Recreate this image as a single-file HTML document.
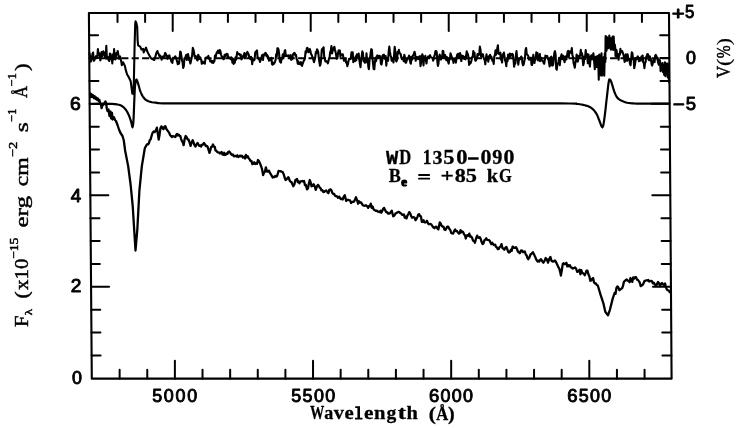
<!DOCTYPE html>
<html><head><meta charset="utf-8"><style>
html,body{margin:0;padding:0;background:#fff;width:739px;height:428px;overflow:hidden}
svg{display:block;filter:grayscale(1)}
</style></head><body>
<svg width="739" height="428" viewBox="0 0 739 428">
<rect width="739" height="428" fill="#fff"/>
<g stroke="#000" stroke-linecap="round" fill="none">
<polygon points="88.90,13.00 669.00,13.00 671.60,378.65 91.80,378.65" fill="none" stroke-width="2.1" stroke-linejoin="round"/>
<line x1="119.63" y1="378.65" x2="119.63" y2="369.65" stroke-width="2.0"/>
<line x1="117.51" y1="13.00" x2="117.51" y2="22.00" stroke-width="2.0"/>
<line x1="147.26" y1="378.65" x2="147.26" y2="369.65" stroke-width="2.0"/>
<line x1="145.11" y1="13.00" x2="145.11" y2="22.00" stroke-width="2.0"/>
<line x1="174.89" y1="378.65" x2="174.89" y2="360.65" stroke-width="2.0"/>
<line x1="172.71" y1="13.00" x2="172.71" y2="31.00" stroke-width="2.0"/>
<line x1="202.52" y1="378.65" x2="202.52" y2="369.65" stroke-width="2.0"/>
<line x1="200.31" y1="13.00" x2="200.31" y2="22.00" stroke-width="2.0"/>
<line x1="230.15" y1="378.65" x2="230.15" y2="369.65" stroke-width="2.0"/>
<line x1="227.91" y1="13.00" x2="227.91" y2="22.00" stroke-width="2.0"/>
<line x1="257.77" y1="378.65" x2="257.77" y2="369.65" stroke-width="2.0"/>
<line x1="255.52" y1="13.00" x2="255.52" y2="22.00" stroke-width="2.0"/>
<line x1="285.40" y1="378.65" x2="285.40" y2="369.65" stroke-width="2.0"/>
<line x1="283.12" y1="13.00" x2="283.12" y2="22.00" stroke-width="2.0"/>
<line x1="313.03" y1="378.65" x2="313.03" y2="360.65" stroke-width="2.0"/>
<line x1="310.72" y1="13.00" x2="310.72" y2="31.00" stroke-width="2.0"/>
<line x1="340.66" y1="378.65" x2="340.66" y2="369.65" stroke-width="2.0"/>
<line x1="338.32" y1="13.00" x2="338.32" y2="22.00" stroke-width="2.0"/>
<line x1="368.29" y1="378.65" x2="368.29" y2="369.65" stroke-width="2.0"/>
<line x1="365.92" y1="13.00" x2="365.92" y2="22.00" stroke-width="2.0"/>
<line x1="395.91" y1="378.65" x2="395.91" y2="369.65" stroke-width="2.0"/>
<line x1="393.53" y1="13.00" x2="393.53" y2="22.00" stroke-width="2.0"/>
<line x1="423.54" y1="378.65" x2="423.54" y2="369.65" stroke-width="2.0"/>
<line x1="421.13" y1="13.00" x2="421.13" y2="22.00" stroke-width="2.0"/>
<line x1="451.17" y1="378.65" x2="451.17" y2="360.65" stroke-width="2.0"/>
<line x1="448.73" y1="13.00" x2="448.73" y2="31.00" stroke-width="2.0"/>
<line x1="478.80" y1="378.65" x2="478.80" y2="369.65" stroke-width="2.0"/>
<line x1="476.33" y1="13.00" x2="476.33" y2="22.00" stroke-width="2.0"/>
<line x1="506.43" y1="378.65" x2="506.43" y2="369.65" stroke-width="2.0"/>
<line x1="503.93" y1="13.00" x2="503.93" y2="22.00" stroke-width="2.0"/>
<line x1="534.05" y1="378.65" x2="534.05" y2="369.65" stroke-width="2.0"/>
<line x1="531.54" y1="13.00" x2="531.54" y2="22.00" stroke-width="2.0"/>
<line x1="561.68" y1="378.65" x2="561.68" y2="369.65" stroke-width="2.0"/>
<line x1="559.14" y1="13.00" x2="559.14" y2="22.00" stroke-width="2.0"/>
<line x1="589.31" y1="378.65" x2="589.31" y2="360.65" stroke-width="2.0"/>
<line x1="586.74" y1="13.00" x2="586.74" y2="31.00" stroke-width="2.0"/>
<line x1="616.94" y1="378.65" x2="616.94" y2="369.65" stroke-width="2.0"/>
<line x1="614.34" y1="13.00" x2="614.34" y2="22.00" stroke-width="2.0"/>
<line x1="644.57" y1="378.65" x2="644.57" y2="369.65" stroke-width="2.0"/>
<line x1="641.94" y1="13.00" x2="641.94" y2="22.00" stroke-width="2.0"/>
<line x1="91.62" y1="355.40" x2="100.62" y2="355.40" stroke-width="2.0"/>
<line x1="671.43" y1="355.40" x2="662.43" y2="355.40" stroke-width="2.0"/>
<line x1="91.43" y1="332.53" x2="100.43" y2="332.53" stroke-width="2.0"/>
<line x1="671.27" y1="332.53" x2="662.27" y2="332.53" stroke-width="2.0"/>
<line x1="91.25" y1="309.66" x2="100.25" y2="309.66" stroke-width="2.0"/>
<line x1="671.11" y1="309.66" x2="662.11" y2="309.66" stroke-width="2.0"/>
<line x1="91.07" y1="286.79" x2="109.07" y2="286.79" stroke-width="2.0"/>
<line x1="670.95" y1="286.79" x2="652.95" y2="286.79" stroke-width="2.0"/>
<line x1="90.89" y1="263.92" x2="99.89" y2="263.92" stroke-width="2.0"/>
<line x1="670.78" y1="263.92" x2="661.78" y2="263.92" stroke-width="2.0"/>
<line x1="90.71" y1="241.05" x2="99.71" y2="241.05" stroke-width="2.0"/>
<line x1="670.62" y1="241.05" x2="661.62" y2="241.05" stroke-width="2.0"/>
<line x1="90.53" y1="218.18" x2="99.53" y2="218.18" stroke-width="2.0"/>
<line x1="670.46" y1="218.18" x2="661.46" y2="218.18" stroke-width="2.0"/>
<line x1="90.35" y1="195.31" x2="108.35" y2="195.31" stroke-width="2.0"/>
<line x1="670.30" y1="195.31" x2="652.30" y2="195.31" stroke-width="2.0"/>
<line x1="90.16" y1="172.44" x2="99.16" y2="172.44" stroke-width="2.0"/>
<line x1="670.13" y1="172.44" x2="661.13" y2="172.44" stroke-width="2.0"/>
<line x1="89.98" y1="149.57" x2="98.98" y2="149.57" stroke-width="2.0"/>
<line x1="669.97" y1="149.57" x2="660.97" y2="149.57" stroke-width="2.0"/>
<line x1="89.80" y1="126.70" x2="98.80" y2="126.70" stroke-width="2.0"/>
<line x1="669.81" y1="126.70" x2="660.81" y2="126.70" stroke-width="2.0"/>
<line x1="89.62" y1="103.83" x2="107.62" y2="103.83" stroke-width="2.0"/>
<line x1="669.65" y1="103.83" x2="651.65" y2="103.83" stroke-width="2.0"/>
<line x1="89.44" y1="80.96" x2="98.44" y2="80.96" stroke-width="2.0"/>
<line x1="669.48" y1="80.96" x2="660.48" y2="80.96" stroke-width="2.0"/>
<line x1="89.26" y1="58.09" x2="98.26" y2="58.09" stroke-width="2.0"/>
<line x1="669.32" y1="58.09" x2="660.32" y2="58.09" stroke-width="2.0"/>
<line x1="89.08" y1="35.22" x2="98.08" y2="35.22" stroke-width="2.0"/>
<line x1="669.16" y1="35.22" x2="660.16" y2="35.22" stroke-width="2.0"/>
</g>
<g stroke="#000" stroke-linecap="round">

<path d="M90.1,58.2 L669.0,58.2" stroke-width="2" stroke-dasharray="7.1 3.3" stroke-linecap="butt" fill="none"/>
<path d="M89.50,53.08 L90.10,56.96 L90.70,61.77 L91.30,59.88 L91.90,57.58 L92.50,53.67 L93.10,52.50 L93.70,60.82 L94.30,60.36 L94.90,58.53 L95.50,57.35 L96.10,55.97 L96.70,55.90 L97.30,57.31 L97.90,49.00 L98.50,55.14 L99.10,53.05 L99.70,54.15 L100.30,60.50 L100.90,58.49 L101.50,52.00 L102.10,56.28 L102.70,53.58 L103.30,51.34 L103.90,52.52 L104.50,55.40 L105.10,57.75 L105.70,58.39 L106.30,45.70 L106.90,58.56 L107.50,58.49 L108.10,57.20 L108.70,60.31 L109.30,61.00 L109.90,53.47 L110.50,53.98 L111.10,58.94 L111.70,57.66 L112.30,63.40 L112.90,54.34 L113.50,59.51 L114.10,49.00 L114.70,57.91 L115.30,59.43 L115.90,56.54 L116.50,53.02 L117.10,53.98 L117.70,51.02 L118.30,54.61 L118.90,58.76 L119.50,58.03 L120.10,56.40 L120.70,59.30 L121.30,61.70 L121.80,65.20 L123.00,62.30 L124.80,65.80 L125.90,70.40 L127.10,74.50 L128.30,76.30 L129.40,78.60 L130.60,80.90 L131.20,85.00 L131.80,89.70 L132.30,93.50 L132.90,91.00 L133.40,94.00 L133.90,80.00 L134.50,50.00 L135.20,24.00 L135.60,21.40 L136.20,22.50 L137.20,27.00 L137.60,40.00 L138.10,45.40 L140.20,46.60 L141.50,49.50 L143.10,48.90 L143.70,52.40 L146.00,47.70 L147.50,52.00 L149.00,54.80 L150.50,57.50 L151.90,58.90 L154.30,60.00 L156.60,52.40 L157.40,51.00 L158.00,53.07 L158.60,53.94 L159.20,55.61 L159.80,56.88 L160.40,55.68 L161.00,57.92 L161.60,59.70 L162.20,58.10 L162.80,56.70 L163.40,57.67 L164.00,56.40 L164.60,54.80 L165.20,52.89 L165.80,53.59 L166.40,56.55 L167.00,55.66 L167.60,58.83 L168.20,56.66 L168.80,55.69 L169.40,55.32 L170.00,58.34 L170.60,58.36 L171.20,61.05 L171.80,62.16 L172.40,62.84 L173.00,57.91 L173.60,58.63 L174.20,58.34 L174.80,56.97 L175.40,56.26 L176.00,58.14 L176.60,59.94 L177.20,61.51 L177.80,64.26 L178.40,62.00 L179.00,63.69 L179.60,59.22 L180.20,51.43 L180.80,52.12 L181.40,56.36 L182.00,60.21 L182.60,62.51 L183.20,67.95 L183.80,66.26 L184.40,58.88 L185.00,58.61 L185.60,56.71 L186.20,54.75 L186.80,59.86 L187.40,55.64 L188.00,54.03 L188.60,56.94 L189.20,60.31 L189.80,60.71 L190.40,63.51 L191.00,60.93 L191.60,58.09 L192.20,54.83 L192.80,47.90 L193.40,49.44 L194.00,52.19 L194.60,56.48 L195.20,55.94 L195.80,56.02 L196.40,56.98 L197.00,59.76 L197.60,60.51 L198.20,54.75 L198.80,56.18 L199.40,59.02 L200.00,57.20 L200.60,58.63 L201.20,59.75 L201.80,63.79 L202.40,63.22 L203.00,61.63 L203.60,62.77 L204.20,63.33 L204.80,63.67 L205.40,58.91 L206.00,57.47 L206.60,57.54 L207.20,57.39 L207.80,57.54 L208.40,55.95 L209.00,58.77 L209.60,58.92 L210.20,61.31 L210.80,61.75 L211.40,60.62 L212.00,62.78 L212.60,60.99 L213.20,63.01 L213.80,61.94 L214.40,61.21 L215.00,55.51 L215.60,57.43 L216.20,54.26 L216.80,52.27 L217.40,52.81 L218.00,50.49 L218.60,52.18 L219.20,53.24 L219.80,50.06 L220.40,51.24 L221.00,54.16 L221.60,56.40 L222.20,56.45 L222.80,58.20 L223.40,59.17 L224.00,58.98 L224.60,54.86 L225.20,56.44 L225.80,56.01 L226.40,53.75 L227.00,54.67 L227.60,54.23 L228.20,58.06 L228.80,57.21 L229.40,57.78 L230.00,57.82 L230.60,59.17 L231.20,57.27 L231.80,58.18 L232.40,62.60 L233.00,58.72 L233.60,63.89 L234.20,61.91 L234.80,62.64 L235.40,57.56 L236.00,59.78 L236.60,56.54 L237.20,52.08 L237.80,53.61 L238.40,54.13 L239.00,53.87 L239.60,54.36 L240.20,55.66 L240.80,54.72 L241.40,59.40 L242.00,58.77 L242.60,58.28 L243.20,55.68 L243.80,55.33 L244.40,53.01 L245.00,58.34 L245.60,54.20 L246.20,56.13 L246.80,53.07 L247.40,51.88 L248.00,53.48 L248.60,54.09 L249.20,57.02 L249.80,58.35 L250.40,59.07 L251.00,56.87 L251.60,58.01 L252.20,64.23 L252.80,59.23 L253.40,60.05 L254.00,60.36 L254.60,59.59 L255.20,52.78 L255.80,51.57 L256.40,52.42 L257.00,50.43 L257.60,57.90 L258.20,57.56 L258.80,59.25 L259.40,59.82 L260.00,61.91 L260.60,59.90 L261.20,59.34 L261.80,56.04 L262.40,54.81 L263.00,59.95 L263.60,54.55 L264.20,55.43 L264.80,53.78 L265.40,52.88 L266.00,53.30 L266.60,56.39 L267.20,55.02 L267.80,56.25 L268.40,57.54 L269.00,60.71 L269.60,59.77 L270.20,60.22 L270.80,59.68 L271.40,57.85 L272.00,64.03 L272.60,64.66 L273.20,62.67 L273.80,63.83 L274.40,63.03 L275.00,61.59 L275.60,59.83 L276.20,54.05 L276.80,56.31 L277.40,48.20 L278.00,48.24 L278.60,49.80 L279.20,54.91 L279.80,61.05 L280.40,62.15 L281.00,62.64 L281.60,58.15 L282.20,58.83 L282.80,54.26 L283.40,54.57 L284.00,56.65 L284.60,51.08 L285.20,50.19 L285.80,56.10 L286.40,55.80 L287.00,55.33 L287.60,56.19 L288.20,55.85 L288.80,55.39 L289.40,57.13 L290.00,55.77 L290.60,55.08 L291.20,59.81 L291.80,59.51 L292.40,58.61 L293.00,54.15 L293.60,53.96 L294.20,52.90 L294.80,53.22 L295.40,55.71 L296.00,54.83 L296.60,58.95 L297.20,60.30 L297.80,63.71 L298.40,61.43 L299.00,63.90 L299.60,63.44 L300.20,64.22 L300.80,61.97 L301.40,65.12 L302.00,65.84 L302.60,63.75 L303.20,62.57 L303.80,60.46 L304.40,60.04 L305.00,57.68 L305.60,51.19 L306.20,52.69 L306.80,48.34 L307.40,47.75 L308.00,49.40 L308.60,52.31 L309.20,51.28 L309.80,49.08 L310.40,50.92 L311.00,54.02 L311.60,54.69 L312.20,56.49 L312.80,58.07 L313.40,60.05 L314.00,62.28 L314.60,60.08 L315.20,57.55 L315.80,52.15 L316.40,53.29 L317.00,49.34 L317.60,50.36 L318.20,51.87 L318.80,57.77 L319.40,62.29 L320.00,65.71 L320.60,63.85 L321.20,58.66 L321.80,49.67 L322.40,48.68 L323.00,51.53 L323.60,47.20 L324.20,56.70 L324.80,58.65 L325.40,61.41 L326.00,60.85 L326.60,61.49 L327.20,61.88 L327.80,63.35 L328.40,61.68 L329.00,58.41 L329.60,57.19 L330.20,51.97 L330.80,50.94 L331.40,46.15 L332.00,53.39 L332.60,51.04 L333.20,49.85 L333.80,47.61 L334.40,46.77 L335.00,50.03 L335.60,52.14 L336.20,55.44 L336.80,58.83 L337.40,58.30 L338.00,53.46 L338.60,50.51 L339.20,50.34 L339.80,50.46 L340.40,56.56 L341.00,54.25 L341.60,54.20 L342.20,54.96 L342.80,54.28 L343.40,57.59 L344.00,60.75 L344.60,59.95 L345.50,58.83 L346.10,62.71 L346.70,62.14 L347.30,66.11 L347.90,64.21 L348.50,60.99 L349.10,58.88 L349.70,58.93 L350.30,59.09 L350.90,57.54 L351.50,52.39 L352.10,58.11 L352.70,52.30 L353.30,62.10 L353.90,59.98 L354.50,60.70 L355.10,61.04 L355.70,56.30 L356.30,60.11 L356.90,54.35 L357.50,57.68 L358.10,56.38 L358.70,53.52 L359.30,59.86 L359.90,63.51 L360.50,67.16 L361.10,59.94 L361.70,56.31 L362.30,51.33 L362.90,52.76 L363.50,61.03 L364.10,60.63 L364.70,62.69 L365.30,58.29 L365.90,62.39 L366.50,53.23 L367.10,61.57 L367.70,58.00 L368.30,66.67 L368.90,69.20 L369.50,60.37 L370.10,57.35 L370.70,52.54 L371.30,49.18 L371.90,49.78 L372.50,58.28 L373.10,64.12 L373.70,69.06 L374.30,69.29 L374.90,62.38 L375.50,57.80 L376.10,61.18 L376.70,56.38 L377.30,55.48 L377.90,56.10 L378.50,58.28 L379.10,55.82 L379.70,57.50 L380.30,56.29 L380.90,63.83 L381.50,64.53 L382.10,61.46 L382.70,55.31 L383.30,54.93 L383.90,54.69 L384.50,56.75 L385.10,58.90 L385.70,55.94 L386.30,65.65 L386.90,58.30 L387.50,57.85 L388.10,60.75 L388.70,51.42 L389.30,46.55 L389.90,51.67 L390.50,55.25 L391.10,56.82 L391.70,60.76 L392.30,59.58 L392.90,59.58 L393.50,62.44 L394.10,54.74 L394.70,46.87 L395.30,51.35 L395.90,60.28 L396.50,61.45 L397.10,59.46 L397.70,51.92 L398.30,53.56 L398.90,49.83 L399.50,53.18 L400.10,53.33 L400.70,54.20 L401.30,57.54 L401.90,58.98 L402.50,59.29 L403.10,57.68 L403.70,61.18 L404.30,54.69 L404.90,57.10 L405.50,62.61 L406.10,62.72 L406.70,60.28 L407.30,59.69 L407.90,58.39 L408.50,57.41 L409.10,55.55 L409.70,57.59 L410.30,62.75 L410.90,63.68 L411.50,56.82 L412.10,59.83 L412.70,56.29 L413.30,54.89 L413.90,54.03 L414.50,51.86 L415.10,53.85 L415.70,60.81 L416.30,57.03 L416.90,58.22 L417.50,57.10 L418.10,59.13 L418.70,57.58 L419.30,56.43 L419.90,56.16 L420.50,66.08 L421.10,62.72 L421.70,56.47 L422.30,54.33 L422.90,55.87 L423.50,65.49 L424.10,57.95 L424.70,58.32 L425.30,55.88 L425.90,60.21 L426.50,63.56 L427.10,58.46 L427.70,57.54 L428.30,56.33 L428.90,57.51 L429.50,57.27 L430.10,55.17 L430.70,57.22 L431.30,57.28 L431.90,57.80 L432.50,57.91 L433.10,60.63 L433.70,59.18 L434.30,56.09 L434.90,54.27 L435.50,50.93 L436.10,50.95 L436.70,52.06 L437.30,60.80 L437.90,65.91 L438.50,63.41 L439.10,56.49 L439.70,54.67 L440.30,56.37 L440.90,59.54 L441.50,58.31 L442.10,58.25 L442.70,50.92 L443.30,50.93 L443.90,58.15 L444.50,56.62 L445.10,54.88 L445.70,57.73 L446.30,60.26 L446.90,57.13 L447.50,59.34 L448.10,61.76 L448.70,63.55 L449.30,58.28 L449.90,59.44 L450.50,53.36 L451.10,55.07 L451.70,56.93 L452.30,59.61 L452.90,58.12 L453.50,62.88 L454.10,59.44 L454.70,59.32 L455.30,59.07 L455.90,62.69 L456.50,58.04 L457.10,55.12 L457.70,54.02 L458.30,53.81 L458.90,57.64 L459.50,54.60 L460.10,53.09 L460.70,56.18 L461.30,61.02 L461.90,55.59 L462.50,58.40 L463.10,56.07 L463.70,58.55 L464.30,58.94 L464.90,56.91 L465.50,59.36 L466.10,56.05 L466.70,51.28 L467.30,53.17 L467.90,54.17 L468.50,57.46 L469.10,64.88 L469.70,61.80 L470.30,63.59 L470.90,62.43 L471.50,60.31 L472.10,56.97 L472.70,57.15 L473.30,51.06 L473.90,53.61 L474.50,52.56 L475.10,60.17 L475.70,60.84 L476.30,59.50 L476.90,58.68 L477.50,53.96 L478.10,55.57 L478.70,55.19 L479.30,52.97 L479.90,46.65 L480.50,49.67 L481.10,56.56 L481.70,56.12 L482.30,56.37 L482.90,54.18 L483.50,57.28 L484.10,59.02 L484.70,59.87 L485.30,64.28 L485.90,58.48 L486.50,54.32 L487.10,59.72 L487.70,56.83 L488.30,61.74 L488.90,56.39 L489.50,56.64 L490.10,54.74 L490.70,56.91 L491.30,56.52 L491.90,59.40 L492.50,60.94 L493.10,60.57 L493.70,63.93 L494.30,56.23 L494.90,55.48 L495.50,50.26 L496.10,54.76 L496.70,52.54 L497.30,48.53 L497.90,45.31 L498.50,53.30 L499.10,53.98 L499.70,53.57 L500.30,52.61 L500.90,59.62 L501.50,58.34 L502.10,62.49 L502.70,54.38 L503.30,56.76 L503.90,52.65 L504.50,56.48 L505.10,60.60 L505.70,61.59 L506.30,66.14 L506.90,59.72 L507.50,61.38 L508.10,54.56 L508.70,56.96 L509.30,58.31 L509.90,53.65 L510.50,53.68 L511.10,55.85 L511.70,54.73 L512.30,53.77 L512.90,54.64 L513.50,59.55 L514.10,66.75 L514.70,63.48 L515.30,63.64 L515.90,55.69 L516.50,51.00 L517.10,57.87 L517.70,59.61 L518.30,64.60 L518.90,59.50 L519.50,58.69 L520.10,59.08 L520.70,57.89 L521.30,56.54 L521.90,58.52 L522.50,63.35 L523.10,65.33 L523.70,64.30 L524.30,61.23 L524.90,58.53 L525.50,50.26 L526.10,47.97 L526.70,53.90 L527.30,54.75 L527.90,55.43 L528.50,56.49 L529.10,59.72 L529.70,58.58 L530.30,58.24 L530.90,57.71 L531.50,64.68 L532.10,64.97 L532.70,60.15 L533.30,54.84 L533.90,58.56 L534.50,63.03 L535.10,58.65 L535.70,59.68 L536.30,52.30 L536.90,56.01 L537.50,53.13 L538.10,60.37 L538.70,56.54 L539.30,58.60 L539.90,53.97 L540.00,61.16 L540.60,59.69 L541.20,57.72 L541.80,60.43 L542.40,60.83 L543.00,61.24 L543.60,63.02 L544.20,63.77 L544.80,60.04 L545.40,55.54 L546.00,55.94 L546.60,57.49 L547.20,56.02 L547.80,58.86 L548.40,58.65 L549.00,62.33 L549.60,66.47 L550.20,64.47 L550.80,57.13 L551.40,56.72 L552.00,65.38 L552.60,65.58 L553.20,64.43 L553.80,58.01 L554.40,52.73 L555.00,51.13 L555.60,54.58 L556.20,68.35 L556.80,69.76 L557.40,64.06 L558.00,63.58 L558.60,61.20 L559.20,57.87 L559.80,65.21 L560.40,59.01 L561.00,56.59 L561.60,54.33 L562.20,59.21 L562.80,58.71 L563.40,55.90 L564.00,59.79 L564.60,62.27 L565.20,57.04 L565.80,56.41 L566.40,59.56 L567.00,55.82 L567.60,51.87 L568.20,50.81 L568.80,56.90 L569.40,51.77 L570.00,51.61 L570.60,51.03 L571.20,52.80 L571.80,48.08 L572.40,55.21 L573.00,56.97 L573.60,63.08 L574.20,64.95 L574.80,67.74 L575.40,62.74 L576.00,60.87 L576.60,54.48 L577.20,56.69 L577.80,61.67 L578.40,58.63 L579.00,55.70 L579.60,56.85 L580.20,54.93 L580.80,49.78 L581.40,55.23 L582.00,53.15 L582.60,58.36 L583.20,65.16 L583.80,62.97 L584.40,56.29 L585.00,59.08 L585.70,50.08 L586.40,57.26 L587.10,53.98 L587.80,63.18 L588.50,54.43 L589.20,61.55 L589.90,66.56 L590.60,56.84 L591.30,55.32 L592.00,59.51 L592.70,58.49 L593.40,53.25 L594.10,60.94 L594.80,69.15 L595.50,57.14 L596.00,56.69 L596.55,66.85 L597.10,56.26 L597.65,67.25 L598.20,55.78 L598.75,79.73 L599.30,54.54 L599.85,67.57 L600.40,57.75 L600.95,75.46 L601.50,53.18 L602.05,75.41 L602.60,57.96 L603.15,68.93 L603.70,57.12 L604.25,75.78 L604.80,53.33 L605.30,62.00 L605.60,36.00 L606.00,36.52 L606.55,50.77 L607.10,37.37 L607.65,48.21 L608.20,39.11 L608.75,48.20 L609.30,35.50 L609.85,47.30 L610.40,38.10 L610.95,49.81 L611.50,38.84 L612.05,48.15 L612.60,36.55 L613.15,49.92 L613.70,36.53 L614.25,49.62 L614.80,44.49 L615.35,48.76 L615.50,56.00 L616.50,50.00 L617.50,57.50 L618.00,56.42 L618.60,59.77 L619.20,53.67 L619.80,54.82 L620.40,48.89 L621.00,52.19 L621.60,50.98 L622.20,51.08 L622.80,52.83 L623.40,54.51 L624.00,57.36 L624.60,61.89 L625.20,60.40 L625.80,54.38 L626.40,59.84 L627.00,60.80 L627.60,54.38 L628.20,58.42 L628.80,59.81 L629.40,58.88 L630.00,64.08 L630.60,65.11 L631.20,58.72 L631.80,52.33 L632.40,53.12 L633.00,59.20 L633.60,58.49 L634.20,68.26 L634.80,65.26 L635.40,61.66 L636.00,57.94 L636.60,59.25 L637.20,57.28 L637.80,56.32 L638.40,57.91 L639.00,61.30 L639.60,58.14 L640.20,60.20 L640.80,60.63 L641.40,56.65 L642.00,58.87 L642.60,55.44 L643.20,62.36 L643.80,62.71 L644.40,68.24 L645.00,63.01 L645.60,62.11 L646.20,56.86 L646.80,55.58 L647.40,54.12 L648.00,54.22 L648.60,59.73 L649.20,60.36 L649.80,56.22 L650.40,58.20 L651.00,59.25 L651.60,64.11 L652.20,65.59 L652.80,63.10 L653.40,60.16 L654.00,60.74 L654.60,62.11 L655.20,55.47 L655.80,54.92 L656.40,56.27 L657.00,57.58 L657.60,59.92 L658.20,62.95 L658.80,64.80 L659.40,59.57 L660.00,60.66 L660.60,71.21 L661.20,64.25 L661.80,70.03 L662.40,63.13 L663.00,72.21 L663.60,64.94 L664.20,75.01 L664.80,62.41 L665.40,76.13 L666.00,63.45 L666.60,73.73 L667.20,63.48 L667.80,77.41 L668.40,63.69 L669.00,82.18" stroke-width="2.1" fill="none" stroke-linejoin="round"/>
<path d="M90.00,104.00 L92.92,103.98 L97.16,103.93 L101.93,103.89 L106.47,103.88 L110.00,103.90 L112.36,103.96 L114.08,104.04 L115.37,104.15 L116.47,104.30 L117.60,104.50 L118.72,104.74 L119.69,105.00 L120.56,105.32 L121.38,105.71 L122.20,106.20 L123.02,106.80 L123.82,107.48 L124.58,108.25 L125.30,109.09 L126.00,110.00 L126.66,110.99 L127.29,112.05 L127.89,113.19 L128.46,114.37 L129.00,115.60 L129.52,116.92 L130.02,118.34 L130.49,119.78 L130.92,121.16 L131.30,122.40 L131.61,123.64 L131.87,124.95 L132.09,126.09 L132.29,126.85 L132.50,127.00 L132.72,126.56 L132.92,125.68 L133.12,124.33 L133.32,122.48 L133.50,120.10 L133.67,116.91 L133.83,112.93 L133.99,108.57 L134.14,104.26 L134.30,100.40 L134.45,96.92 L134.60,93.54 L134.74,90.37 L134.91,87.55 L135.10,85.20 L135.32,83.31 L135.56,81.80 L135.83,80.68 L136.11,79.95 L136.40,79.60 L136.70,79.74 L137.02,80.37 L137.36,81.34 L137.72,82.50 L138.10,83.70 L138.51,85.02 L138.94,86.56 L139.40,88.21 L139.89,89.83 L140.40,91.30 L140.93,92.64 L141.47,93.92 L142.05,95.14 L142.69,96.27 L143.40,97.30 L144.17,98.24 L144.98,99.08 L145.87,99.84 L146.86,100.52 L148.00,101.10 L149.22,101.58 L150.50,101.94 L151.93,102.23 L153.60,102.47 L155.60,102.70 L157.00,102.91 L157.72,103.08 L159.19,103.21 L162.81,103.32 L170.00,103.40 L180.68,103.44 L193.92,103.45 L209.81,103.43 L228.47,103.41 L250.00,103.40 L276.32,103.40 L307.36,103.40 L340.24,103.40 L372.08,103.40 L400.00,103.40 L423.68,103.40 L445.04,103.40 L464.56,103.39 L482.72,103.39 L500.00,103.40 L516.94,103.41 L533.21,103.42 L548.01,103.44 L560.54,103.47 L570.00,103.50 L575.34,103.53 L577.09,103.55 L576.83,103.59 L576.11,103.67 L576.50,103.80 L578.06,103.99 L579.73,104.22 L581.45,104.49 L583.14,104.82 L584.70,105.20 L586.15,105.61 L587.54,106.06 L588.86,106.56 L590.11,107.17 L591.30,107.90 L592.42,108.78 L593.46,109.77 L594.44,110.87 L595.36,112.05 L596.20,113.30 L596.95,114.67 L597.61,116.16 L598.22,117.71 L598.80,119.25 L599.40,120.70 L600.03,122.29 L600.67,124.07 L601.29,125.69 L601.87,126.85 L602.40,127.20 L602.84,126.73 L603.21,125.64 L603.55,123.99 L603.90,121.80 L604.30,119.10 L604.77,115.61 L605.28,111.30 L605.81,106.60 L606.32,101.96 L606.80,97.80 L607.24,93.97 L607.67,90.18 L608.07,86.66 L608.45,83.65 L608.80,81.40 L609.10,80.05 L609.36,79.46 L609.59,79.38 L609.83,79.57 L610.10,79.80 L610.39,80.07 L610.68,80.53 L610.98,81.19 L611.32,82.05 L611.70,83.10 L612.13,84.45 L612.60,86.11 L613.11,87.91 L613.64,89.69 L614.20,91.30 L614.77,92.76 L615.35,94.18 L615.96,95.51 L616.64,96.73 L617.40,97.80 L618.24,98.69 L619.16,99.42 L620.14,100.03 L621.18,100.58 L622.30,101.10 L623.44,101.59 L624.60,102.02 L625.85,102.40 L627.26,102.73 L628.90,103.00 L630.55,103.21 L632.16,103.36 L634.06,103.47 L636.56,103.54 L640.00,103.60 L645.12,103.64 L651.70,103.64 L658.63,103.63 L664.77,103.61 L669.00,103.60" stroke-width="2.2" fill="none"/>
<path d="M90.30,93.50 L90.90,97.00 L91.60,94.30 L92.30,97.00 L93.10,95.30 L93.90,98.00 L94.70,96.30 L95.50,99.00 L96.30,97.50 L97.10,100.00 L97.90,98.50 L98.70,101.00 L99.40,100.00 L100.20,103.50 L101.00,104.50 L101.60,108.20 L102.40,105.20 L103.50,104.80 L104.50,103.00 L105.50,101.50 L106.30,104.50 L106.80,108.50 L107.50,111.00 L108.50,109.50 L109.50,116.00 L110.50,111.50 L111.20,118.50 L112.00,113.00 L112.60,119.50 L114.00,117.30 L115.00,120.00 L116.00,121.00 L117.50,125.00 L119.00,129.50 L120.50,133.00 L122.50,136.00 L123.80,140.50 L125.20,151.00 L128.20,166.40 L130.60,184.50 L132.70,205.80 L134.20,230.00 L135.50,250.50 L137.30,230.00 L139.40,190.60 L141.80,166.40 L144.80,148.20 L146.40,145.20 L147.24,144.10 L148.08,144.35 L148.92,143.07 L149.76,140.10 L150.60,139.50 L151.65,135.69 L152.70,132.50 L153.63,131.48 L154.57,132.16 L155.50,131.10 L156.90,127.60 L157.80,133.49 L158.70,139.50 L159.55,134.68 L160.40,128.30 L161.45,126.36 L162.50,128.30 L163.43,129.24 L164.37,126.80 L165.30,126.20 L166.35,129.01 L167.40,130.40 L168.30,131.66 L169.20,132.80 L170.10,135.09 L171.00,136.00 L171.88,137.04 L172.75,136.14 L173.62,136.36 L174.50,136.70 L175.34,137.00 L176.18,134.95 L177.02,133.85 L177.86,135.43 L178.70,134.60 L179.52,135.66 L180.33,136.12 L181.15,139.05 L181.97,141.18 L182.78,142.18 L183.60,145.20 L184.65,139.03 L185.70,136.00 L186.63,137.21 L187.57,139.28 L188.50,139.50 L189.55,142.46 L190.60,145.90 L191.65,142.27 L192.70,140.20 L193.63,142.74 L194.57,145.22 L195.50,146.60 L196.55,144.48 L197.60,143.00 L198.47,144.47 L199.35,145.90 L200.22,145.48 L201.10,146.60 L202.03,144.55 L202.97,144.57 L203.90,143.00 L204.83,144.23 L205.77,146.09 L206.70,145.90 L207.63,146.88 L208.57,149.87 L209.50,152.90 L210.38,149.92 L211.25,146.88 L212.12,146.73 L213.00,144.50 L213.88,146.63 L214.75,146.87 L215.62,150.68 L216.50,150.80 L217.34,152.08 L218.18,152.30 L219.02,152.48 L219.86,153.48 L220.70,152.90 L221.56,151.92 L222.42,154.38 L223.28,154.79 L224.14,152.72 L225.00,155.00 L225.84,154.66 L226.68,153.34 L227.52,153.72 L228.36,151.74 L229.20,151.50 L230.13,152.65 L231.07,154.19 L232.00,155.00 L232.93,154.41 L233.87,156.30 L234.80,156.00 L235.68,155.85 L236.55,156.44 L237.43,155.34 L238.30,156.99 L239.18,156.45 L240.05,155.59 L240.93,156.40 L241.80,155.70 L243.00,157.57 L244.20,156.80 L245.07,158.51 L245.95,154.80 L246.82,157.20 L247.70,156.10 L248.63,158.22 L249.57,159.27 L250.50,161.00 L251.43,160.88 L252.37,164.19 L253.30,163.80 L254.23,162.24 L255.17,163.93 L256.10,163.10 L257.03,163.77 L257.97,160.02 L258.90,161.00 L259.95,163.18 L261.00,166.00 L262.05,169.13 L263.10,175.00 L264.03,172.69 L264.97,171.46 L265.90,167.30 L266.95,171.57 L268.00,171.60 L268.97,170.67 L269.93,172.86 L270.90,174.40 L271.77,175.84 L272.65,177.46 L273.52,176.94 L274.40,177.20 L275.33,175.95 L276.27,176.58 L277.20,175.80 L278.60,170.90 L279.53,171.12 L280.47,171.15 L281.40,171.60 L282.45,171.88 L283.50,173.70 L284.55,177.26 L285.60,180.00 L286.53,179.39 L287.47,178.04 L288.40,177.20 L289.80,180.70 L290.68,181.87 L291.55,182.15 L292.43,184.39 L293.30,186.30 L294.35,184.42 L295.40,180.00 L296.22,180.03 L297.03,178.95 L297.85,182.10 L298.67,181.49 L299.48,183.38 L300.30,181.40 L301.23,181.47 L302.17,180.92 L303.10,181.40 L304.03,181.05 L304.97,185.12 L305.90,184.90 L306.95,189.35 L308.00,188.40 L308.90,183.34 L309.80,180.00 L310.65,182.47 L311.50,186.30 L312.55,185.88 L313.60,184.20 L314.65,186.13 L315.70,189.80 L316.75,187.07 L317.80,184.90 L318.73,185.70 L319.67,187.43 L320.60,188.40 L321.50,190.42 L322.40,190.17 L323.30,191.99 L324.20,191.90 L325.25,190.76 L326.30,190.50 L327.35,192.24 L328.40,193.30 L329.33,189.89 L330.27,189.44 L331.20,189.80 L332.25,192.74 L333.30,194.00 L334.18,193.91 L335.05,195.66 L335.93,196.14 L336.80,196.10 L338.00,197.74 L339.20,196.60 L340.07,198.18 L340.95,199.12 L341.82,198.66 L342.70,199.50 L343.75,196.62 L344.80,195.20 L346.20,200.90 L347.13,199.90 L348.07,199.92 L349.00,200.20 L350.05,200.41 L351.10,203.00 L352.03,201.96 L352.97,201.97 L353.90,201.60 L354.95,199.71 L356.00,197.30 L357.05,200.14 L358.10,203.70 L359.03,201.21 L359.97,202.69 L360.90,202.30 L361.80,203.41 L362.70,205.19 L363.60,205.53 L364.50,205.80 L365.43,205.36 L366.37,205.51 L367.30,206.50 L368.18,207.91 L369.05,205.89 L369.93,206.32 L370.80,203.70 L371.73,207.80 L372.67,206.57 L373.60,209.30 L374.48,210.05 L375.35,210.48 L376.23,210.94 L377.10,210.70 L377.94,211.69 L378.78,211.75 L379.62,212.14 L380.46,210.80 L381.30,212.80 L382.23,210.99 L383.17,208.75 L384.10,207.90 L385.15,210.13 L386.20,212.10 L387.13,212.08 L388.07,213.68 L389.00,213.50 L389.93,213.43 L390.87,211.96 L391.80,210.70 L393.20,216.30 L394.07,215.76 L394.95,214.65 L395.82,213.20 L396.70,212.80 L397.63,212.39 L398.57,211.81 L399.50,212.10 L400.38,213.21 L401.25,213.51 L402.12,214.81 L403.00,214.90 L403.88,214.38 L404.75,217.58 L405.62,216.72 L406.50,218.40 L407.43,215.53 L408.37,213.99 L409.30,212.10 L410.23,213.38 L411.17,216.14 L412.10,217.70 L412.94,217.38 L413.78,217.14 L414.62,217.65 L415.46,220.20 L416.30,219.10 L417.27,217.51 L418.23,214.61 L419.20,214.20 L420.07,216.13 L420.95,216.42 L421.82,221.85 L422.70,221.90 L423.57,220.30 L424.45,222.40 L425.32,222.47 L426.20,221.90 L427.04,220.80 L427.88,223.06 L428.72,224.21 L429.56,224.07 L430.40,224.00 L431.40,224.50 L432.45,226.27 L433.50,227.50 L434.43,228.20 L435.37,227.07 L436.30,226.60 L437.35,228.35 L438.40,229.40 L439.80,222.30 L440.73,223.60 L441.67,225.83 L442.60,226.60 L443.53,226.74 L444.47,229.70 L445.40,230.00 L446.33,228.34 L447.27,226.59 L448.20,226.60 L449.25,228.68 L450.30,230.00 L451.23,232.98 L452.17,233.41 L453.10,233.60 L454.15,230.96 L455.20,229.40 L456.10,231.18 L457.00,231.02 L457.90,232.42 L458.80,233.60 L459.68,233.17 L460.55,230.12 L461.43,232.23 L462.30,231.50 L463.18,232.17 L464.05,234.27 L464.93,235.20 L465.80,238.50 L466.68,235.68 L467.55,235.06 L468.43,235.69 L469.30,233.60 L470.23,236.75 L471.17,236.37 L472.10,237.80 L473.03,240.58 L473.97,240.79 L474.90,242.70 L476.30,237.80 L477.18,235.62 L478.05,237.61 L478.93,237.74 L479.80,237.10 L480.73,238.98 L481.67,242.08 L482.60,244.10 L483.53,243.20 L484.47,240.19 L485.40,239.60 L486.24,238.25 L487.08,239.77 L487.92,239.98 L488.76,240.03 L489.60,240.60 L490.48,242.51 L491.35,244.16 L492.23,242.79 L493.10,244.10 L494.15,245.18 L495.20,244.80 L496.07,246.84 L496.95,247.65 L497.82,249.05 L498.70,249.00 L499.63,246.96 L500.57,246.51 L501.50,244.10 L502.43,248.09 L503.37,248.68 L504.30,249.70 L505.35,247.65 L506.40,246.90 L507.33,249.40 L508.27,251.96 L509.20,252.50 L510.04,251.77 L510.88,249.67 L511.72,250.76 L512.56,246.71 L513.40,246.90 L514.30,247.95 L515.20,247.93 L516.10,247.22 L517.00,249.00 L517.93,251.68 L518.87,252.17 L519.80,253.20 L520.85,250.57 L521.90,250.40 L522.88,252.06 L523.85,252.00 L524.82,251.48 L525.80,254.50 L526.60,255.34 L527.40,257.91 L528.20,259.20 L529.35,257.52 L530.50,254.50 L531.70,253.52 L532.90,252.20 L534.05,254.60 L535.20,256.90 L536.35,259.69 L537.50,261.50 L538.38,260.70 L539.25,261.59 L540.12,259.93 L541.00,259.20 L542.20,261.26 L543.40,262.70 L544.55,260.92 L545.70,258.00 L546.85,259.24 L548.00,262.70 L549.20,259.06 L550.40,256.90 L551.55,260.81 L552.70,261.50 L553.85,261.30 L555.00,260.40 L556.20,262.40 L557.40,265.00 L558.35,267.16 L559.30,268.60 L560.10,271.59 L560.90,275.60 L561.85,270.04 L562.80,263.90 L563.73,263.20 L564.67,264.19 L565.60,263.90 L566.45,262.82 L567.30,266.45 L568.15,265.09 L569.00,266.20 L569.90,265.14 L570.80,267.16 L571.70,267.61 L572.60,268.60 L573.75,268.16 L574.90,267.40 L576.05,268.50 L577.20,272.00 L578.40,271.27 L579.60,269.70 L580.45,274.38 L581.30,270.11 L582.15,272.68 L583.00,273.20 L583.85,273.87 L584.70,275.20 L585.60,273.10 L586.50,270.60 L587.45,270.55 L588.40,274.30 L589.35,276.34 L590.30,280.80 L591.23,280.35 L592.17,278.89 L593.10,278.00 L594.05,282.52 L595.00,283.60 L595.93,283.49 L596.87,285.05 L597.80,285.50 L600.60,294.90 L603.40,303.30 L605.30,311.80 L608.00,315.40 L609.90,309.80 L612.70,298.60 L614.60,293.00 L615.53,293.86 L616.47,287.80 L617.40,286.40 L618.35,287.35 L619.30,290.20 L620.23,289.53 L621.17,288.89 L622.10,288.30 L623.00,285.94 L623.90,281.80 L624.85,280.99 L625.80,279.90 L626.73,279.41 L627.67,280.72 L628.60,280.80 L629.55,282.17 L630.50,278.00 L631.40,281.24 L632.30,281.80 L633.23,277.31 L634.17,278.52 L635.10,277.10 L636.03,277.11 L636.97,279.62 L637.90,279.90 L638.85,281.12 L639.80,282.70 L640.75,286.13 L641.70,285.50 L642.63,284.91 L643.57,283.30 L644.50,280.80 L645.42,280.77 L646.35,280.31 L647.28,280.48 L648.20,279.90 L649.13,281.56 L650.07,281.06 L651.00,280.80 L651.93,281.06 L652.87,283.41 L653.80,282.70 L654.90,284.55 L656.00,286.00 L657.00,283.92 L658.00,282.00 L659.00,283.17 L660.00,286.00 L661.00,283.91 L662.00,283.00 L663.20,284.60 L664.13,284.87 L665.07,283.53 L666.00,287.40 L666.92,289.62 L667.85,290.29 L668.78,290.63 L669.70,292.00" stroke-width="2.3" fill="none" stroke-linejoin="round"/>

</g>
<g fill="#000">
<text transform="translate(71.93,384.47) scale(1.0167,1)" font-family='"Liberation Sans",sans-serif' font-weight="normal" font-size="17.60" stroke="#000" stroke-width="0.9" stroke-linejoin="round">0</text>
<text transform="translate(70.79,292.45) scale(1.0864,1)" font-family='"Liberation Sans",sans-serif' font-weight="normal" font-size="17.60" stroke="#000" stroke-width="0.9" stroke-linejoin="round">2</text>
<text transform="translate(70.68,202.05) scale(1.0682,1)" font-family='"Liberation Sans",sans-serif' font-weight="normal" font-size="17.60" stroke="#000" stroke-width="0.9" stroke-linejoin="round">4</text>
<text transform="translate(69.88,109.67) scale(1.0993,1)" font-family='"Liberation Sans",sans-serif' font-weight="normal" font-size="17.60" stroke="#000" stroke-width="0.9" stroke-linejoin="round">6</text>
<text transform="translate(152.13,401.87) scale(1.0167,1)" font-family='"Liberation Sans",sans-serif' font-weight="normal" font-size="17.60" stroke="#000" stroke-width="0.9" stroke-linejoin="round">5</text>
<text transform="translate(163.87,401.87) scale(1.0167,1)" font-family='"Liberation Sans",sans-serif' font-weight="normal" font-size="17.60" stroke="#000" stroke-width="0.9" stroke-linejoin="round">0</text>
<text transform="translate(175.60,401.87) scale(1.0167,1)" font-family='"Liberation Sans",sans-serif' font-weight="normal" font-size="17.60" stroke="#000" stroke-width="0.9" stroke-linejoin="round">0</text>
<text transform="translate(187.33,401.87) scale(1.0167,1)" font-family='"Liberation Sans",sans-serif' font-weight="normal" font-size="17.60" stroke="#000" stroke-width="0.9" stroke-linejoin="round">0</text>
<text transform="translate(291.13,401.57) scale(1.0167,1)" font-family='"Liberation Sans",sans-serif' font-weight="normal" font-size="17.60" stroke="#000" stroke-width="0.9" stroke-linejoin="round">5</text>
<text transform="translate(302.53,401.57) scale(1.0167,1)" font-family='"Liberation Sans",sans-serif' font-weight="normal" font-size="17.60" stroke="#000" stroke-width="0.9" stroke-linejoin="round">5</text>
<text transform="translate(313.93,401.57) scale(1.0167,1)" font-family='"Liberation Sans",sans-serif' font-weight="normal" font-size="17.60" stroke="#000" stroke-width="0.9" stroke-linejoin="round">0</text>
<text transform="translate(325.33,401.57) scale(1.0167,1)" font-family='"Liberation Sans",sans-serif' font-weight="normal" font-size="17.60" stroke="#000" stroke-width="0.9" stroke-linejoin="round">0</text>
<text transform="translate(428.93,401.57) scale(1.0499,1)" font-family='"Liberation Sans",sans-serif' font-weight="normal" font-size="17.60" stroke="#000" stroke-width="0.9" stroke-linejoin="round">6</text>
<text transform="translate(440.43,401.57) scale(1.0167,1)" font-family='"Liberation Sans",sans-serif' font-weight="normal" font-size="17.60" stroke="#000" stroke-width="0.9" stroke-linejoin="round">0</text>
<text transform="translate(451.73,401.57) scale(1.0167,1)" font-family='"Liberation Sans",sans-serif' font-weight="normal" font-size="17.60" stroke="#000" stroke-width="0.9" stroke-linejoin="round">0</text>
<text transform="translate(463.03,401.57) scale(1.0167,1)" font-family='"Liberation Sans",sans-serif' font-weight="normal" font-size="17.60" stroke="#000" stroke-width="0.9" stroke-linejoin="round">0</text>
<text transform="translate(567.23,401.77) scale(1.0499,1)" font-family='"Liberation Sans",sans-serif' font-weight="normal" font-size="17.60" stroke="#000" stroke-width="0.9" stroke-linejoin="round">6</text>
<text transform="translate(578.73,401.77) scale(1.0167,1)" font-family='"Liberation Sans",sans-serif' font-weight="normal" font-size="17.60" stroke="#000" stroke-width="0.9" stroke-linejoin="round">5</text>
<text transform="translate(590.03,401.77) scale(1.0167,1)" font-family='"Liberation Sans",sans-serif' font-weight="normal" font-size="17.60" stroke="#000" stroke-width="0.9" stroke-linejoin="round">0</text>
<text transform="translate(601.33,401.77) scale(1.0167,1)" font-family='"Liberation Sans",sans-serif' font-weight="normal" font-size="17.60" stroke="#000" stroke-width="0.9" stroke-linejoin="round">0</text>
<text transform="translate(671.65,19.88) scale(1.2535,1)" font-family='"Liberation Sans",sans-serif' font-weight="normal" font-size="17.60" stroke="#000" stroke-width="0.9" stroke-linejoin="round">+</text>
<text transform="translate(684.98,18.47) scale(0.9569,1)" font-family='"Liberation Sans",sans-serif' font-weight="normal" font-size="17.60" stroke="#000" stroke-width="0.9" stroke-linejoin="round">5</text>
<text transform="translate(685.93,63.67) scale(1.0167,1)" font-family='"Liberation Sans",sans-serif' font-weight="normal" font-size="17.60" stroke="#000" stroke-width="0.9" stroke-linejoin="round">0</text>
<text transform="translate(672.63,109.68) scale(1.1598,1)" font-family='"Liberation Sans",sans-serif' font-weight="normal" font-size="17.60" stroke="#000" stroke-width="0.9" stroke-linejoin="round">−</text>
<text transform="translate(685.71,109.57) scale(1.0526,1)" font-family='"Liberation Sans",sans-serif' font-weight="normal" font-size="17.60" stroke="#000" stroke-width="0.9" stroke-linejoin="round">5</text>
<path d="M355.2,406.3 H360.0 V417.7 H362.5 V419.5 H355.0 V417.7 H357.4 V408.1 H355.2 Z"/>
<text transform="translate(310.04,419.40) scale(0.7387,1)" font-family='"Liberation Serif",serif' font-weight="bold" font-size="19.40" stroke="#000" stroke-width="0.3" stroke-linejoin="round">W</text>
<text transform="translate(324.31,419.40) scale(0.9290,1)" font-family='"Liberation Serif",serif' font-weight="bold" font-size="19.40" stroke="#000" stroke-width="0.3" stroke-linejoin="round">a</text>
<text transform="translate(333.75,419.40) scale(1.0515,1)" font-family='"Liberation Serif",serif' font-weight="bold" font-size="19.40" stroke="#000" stroke-width="0.3" stroke-linejoin="round">v</text>
<text transform="translate(344.42,419.40) scale(1.0711,1)" font-family='"Liberation Serif",serif' font-weight="bold" font-size="19.40" stroke="#000" stroke-width="0.3" stroke-linejoin="round">e</text>
<text transform="translate(364.00,419.40) scale(1.0979,1)" font-family='"Liberation Serif",serif' font-weight="bold" font-size="19.40" stroke="#000" stroke-width="0.3" stroke-linejoin="round">e</text>
<text transform="translate(374.04,419.40) scale(1.0610,1)" font-family='"Liberation Serif",serif' font-weight="bold" font-size="19.40" stroke="#000" stroke-width="0.3" stroke-linejoin="round">n</text>
<text transform="translate(386.56,419.40) scale(1.0088,1)" font-family='"Liberation Serif",serif' font-weight="bold" font-size="19.40" stroke="#000" stroke-width="0.3" stroke-linejoin="round">g</text>
<text transform="translate(397.68,419.40) scale(1.2764,1)" font-family='"Liberation Serif",serif' font-weight="bold" font-size="19.40" stroke="#000" stroke-width="0.3" stroke-linejoin="round">t</text>
<text transform="translate(406.44,419.40) scale(1.0509,1)" font-family='"Liberation Serif",serif' font-weight="bold" font-size="19.40" stroke="#000" stroke-width="0.3" stroke-linejoin="round">h</text>
<text transform="translate(428.78,419.60) scale(1.1118,1)" font-family='"Liberation Serif",serif' font-weight="bold" font-size="19.40" stroke="#000" stroke-width="0.3" stroke-linejoin="round">(</text>
<text transform="translate(436.18,419.60) scale(0.8555,1)" font-family='"Liberation Serif",serif' font-weight="bold" font-size="19.40" stroke="#000" stroke-width="0.3" stroke-linejoin="round">Å</text>
<text transform="translate(448.05,419.60) scale(1.0309,1)" font-family='"Liberation Serif",serif' font-weight="bold" font-size="19.40" stroke="#000" stroke-width="0.3" stroke-linejoin="round">)</text>
<text transform="translate(385.95,163.90) scale(1.0302,1)" font-family='"Liberation Mono",monospace' font-weight="bold" font-size="19.90" stroke="#000" stroke-width="0.3" stroke-linejoin="round">W</text>
<text transform="translate(399.22,163.90) scale(0.8286,1)" font-family='"Liberation Serif",serif' font-weight="bold" font-size="19.90" stroke="#000" stroke-width="0.3" stroke-linejoin="round">D</text>
<text transform="translate(422.87,163.90) scale(0.8692,1)" font-family='"Liberation Serif",serif' font-weight="bold" font-size="19.90" stroke="#000" stroke-width="0.3" stroke-linejoin="round">1</text>
<text transform="translate(432.55,163.90) scale(1.0050,1)" font-family='"Liberation Serif",serif' font-weight="bold" font-size="19.90" stroke="#000" stroke-width="0.3" stroke-linejoin="round">3</text>
<text transform="translate(443.26,163.90) scale(1.1233,1)" font-family='"Liberation Serif",serif' font-weight="bold" font-size="19.90" stroke="#000" stroke-width="0.3" stroke-linejoin="round">5</text>
<text transform="translate(456.15,163.90) scale(1.1366,1)" font-family='"Liberation Serif",serif' font-weight="bold" font-size="19.90" stroke="#000" stroke-width="0.3" stroke-linejoin="round">0</text>
<text transform="translate(480.47,163.90) scale(1.1007,1)" font-family='"Liberation Serif",serif' font-weight="bold" font-size="19.90" stroke="#000" stroke-width="0.3" stroke-linejoin="round">0</text>
<text transform="translate(492.34,163.90) scale(1.0164,1)" font-family='"Liberation Serif",serif' font-weight="bold" font-size="19.90" stroke="#000" stroke-width="0.3" stroke-linejoin="round">9</text>
<text transform="translate(503.47,163.90) scale(1.1007,1)" font-family='"Liberation Serif",serif' font-weight="bold" font-size="19.90" stroke="#000" stroke-width="0.3" stroke-linejoin="round">0</text>
<rect x="467.9" y="157.3" width="10.8" height="2.4" rx="0.6"/>
<text transform="translate(388.78,182.40) scale(0.9417,1)" font-family='"Liberation Serif",serif' font-weight="bold" font-size="19.20" stroke="#000" stroke-width="0.3" stroke-linejoin="round">B</text>
<text transform="translate(440.56,182.40) scale(1.2209,1)" font-family='"Liberation Serif",serif' font-weight="bold" font-size="19.20" stroke="#000" stroke-width="0.3" stroke-linejoin="round">+</text>
<text transform="translate(454.68,182.40) scale(1.1507,1)" font-family='"Liberation Serif",serif' font-weight="bold" font-size="19.20" stroke="#000" stroke-width="0.3" stroke-linejoin="round">8</text>
<text transform="translate(465.66,182.40) scale(1.1642,1)" font-family='"Liberation Serif",serif' font-weight="bold" font-size="19.20" stroke="#000" stroke-width="0.3" stroke-linejoin="round">5</text>
<text transform="translate(486.84,182.40) scale(1.0613,1)" font-family='"Liberation Serif",serif' font-weight="bold" font-size="19.20" stroke="#000" stroke-width="0.3" stroke-linejoin="round">k</text>
<text transform="translate(499.03,182.40) scale(0.8557,1)" font-family='"Liberation Serif",serif' font-weight="bold" font-size="19.20" stroke="#000" stroke-width="0.3" stroke-linejoin="round">G</text>
<text transform="translate(401.15,185.50) scale(0.9990,1)" font-family='"Liberation Serif",serif' font-weight="bold" font-size="13.00" stroke="#000" stroke-width="1.2" stroke-linejoin="round">e</text>
<rect x="418.1" y="174.0" width="12" height="1.9" rx="0.9"/><rect x="418.1" y="177.7" width="12" height="1.9" rx="0.9"/>
<text transform="translate(730.00,77.97) rotate(-90) scale(0.8734,1)" font-family='"Liberation Serif",serif' font-weight="normal" font-size="19.30" stroke="#000" stroke-width="0.5" stroke-linejoin="round">V</text>
<text transform="translate(730.00,65.89) rotate(-90) scale(1.1379,1)" font-family='"Liberation Serif",serif' font-weight="normal" font-size="19.30" stroke="#000" stroke-width="0.2" stroke-linejoin="round">(</text>
<text transform="translate(730.00,58.14) rotate(-90) scale(0.7992,1)" font-family='"Liberation Serif",serif' font-weight="normal" font-size="19.30" stroke="#000" stroke-width="0.5" stroke-linejoin="round">%</text>
<text transform="translate(730.00,45.35) rotate(-90) scale(1.1160,1)" font-family='"Liberation Serif",serif' font-weight="normal" font-size="19.30" stroke="#000" stroke-width="0.2" stroke-linejoin="round">)</text>
<text transform="translate(28.20,326.92) rotate(-90) scale(1.0964,1)" font-family='"Liberation Serif",serif' font-weight="normal" font-size="18.80" stroke="#000" stroke-width="0.45" stroke-linejoin="round">F</text>
<text transform="translate(31.70,315.33) rotate(-90) scale(1.3094,1)" font-family='"Liberation Serif",serif' font-weight="normal" font-size="10.07" stroke="#000" stroke-width="0.45" stroke-linejoin="round">λ</text>
<text transform="translate(28.10,298.39) rotate(-90) scale(1.1681,1)" font-family='"Liberation Serif",serif' font-weight="normal" font-size="18.80" stroke="#000" stroke-width="0.45" stroke-linejoin="round">(</text>
<text transform="translate(28.10,289.91) rotate(-90) scale(1.1079,1)" font-family='"Liberation Serif",serif' font-weight="normal" font-size="18.80" stroke="#000" stroke-width="0.45" stroke-linejoin="round">x10</text>
<text transform="translate(17.60,259.08) rotate(-90) scale(1.0535,1)" font-family='"Liberation Serif",serif' font-weight="normal" font-size="13.00" stroke="#000" stroke-width="0.45" stroke-linejoin="round">−15</text>
<text transform="translate(28.00,227.61) rotate(-90) scale(1.3387,1)" font-family='"Liberation Serif",serif' font-weight="normal" font-size="18.80" stroke="#000" stroke-width="0.45" stroke-linejoin="round">erg</text>
<text transform="translate(28.00,186.35) rotate(-90) scale(1.2602,1)" font-family='"Liberation Serif",serif' font-weight="normal" font-size="18.80" stroke="#000" stroke-width="0.45" stroke-linejoin="round">cm</text>
<text transform="translate(16.70,157.13) rotate(-90) scale(1.1218,1)" font-family='"Liberation Serif",serif' font-weight="normal" font-size="13.00" stroke="#000" stroke-width="0.45" stroke-linejoin="round">−2</text>
<text transform="translate(27.50,132.14) rotate(-90) scale(1.3847,1)" font-family='"Liberation Serif",serif' font-weight="normal" font-size="18.80" stroke="#000" stroke-width="0.45" stroke-linejoin="round">s</text>
<text transform="translate(16.10,122.34) rotate(-90) scale(0.9907,1)" font-family='"Liberation Serif",serif' font-weight="normal" font-size="13.00" stroke="#000" stroke-width="0.45" stroke-linejoin="round">−1</text>
<text transform="translate(27.00,97.97) rotate(-90) scale(0.8903,1)" font-family='"Liberation Serif",serif' font-weight="normal" font-size="18.80" stroke="#000" stroke-width="0.45" stroke-linejoin="round">Å</text>
<text transform="translate(15.80,86.64) rotate(-90) scale(0.9907,1)" font-family='"Liberation Serif",serif' font-weight="normal" font-size="13.00" stroke="#000" stroke-width="0.45" stroke-linejoin="round">−1</text>
<text transform="translate(28.00,70.98) rotate(-90) scale(1.2070,1)" font-family='"Liberation Serif",serif' font-weight="normal" font-size="18.80" stroke="#000" stroke-width="0.45" stroke-linejoin="round">)</text>
</g>
</svg>
</body></html>
